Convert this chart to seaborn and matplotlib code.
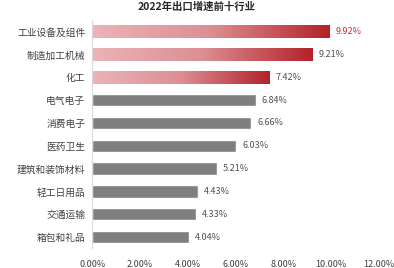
import numpy as np
import pandas as pd
import matplotlib
matplotlib.use("Agg")
import matplotlib.pyplot as plt
import seaborn as sns
from matplotlib.colors import LinearSegmentedColormap

# 数据
industries = ["工业设备及组件", "制造加工机械", "化工", "电气电子", "消费电子",
              "医药卫生", "建筑和装饰材料", "轻工日用品", "交通运输", "箱包和礼品"]
values = [9.92, 9.21, 7.42, 6.84, 6.66, 6.03, 5.21, 4.43, 4.33, 4.04]
xticks = [0, 2, 4, 6, 8, 10, 12]

sns.set_theme(style="white")
plt.rcParams['font.family'] = ['Noto Sans CJK SC', 'DejaVu Sans']

df = pd.DataFrame({"行业": industries, "占比": values})

fig = plt.figure(figsize=(3.94, 2.68), dpi=100)
ax = fig.add_axes([0.234, 0.073, 0.728, 0.851])

sns.barplot(data=df, x="占比", y="行业", color="#7f7f7f", width=0.55, ax=ax,
            saturation=1)

# 前三名用渐变红色
cmap = LinearSegmentedColormap.from_list("red_grad", ["#eab4b8", "#dc8e93", "#b3222a"])
grad = np.linspace(0, 1, 256).reshape(1, -1)
for i, p in enumerate(ax.patches[:3]):
    x0, y0 = p.get_x(), p.get_y()
    w, h = p.get_width(), p.get_height()
    p.set_visible(False)
    ax.imshow(grad, cmap=cmap, aspect="auto", extent=[x0, x0 + w, y0 + h, y0],
              zorder=2)

ax.set_xlim(0, 12)
ax.set_ylim(len(industries) - 0.5, -0.5)

for i, v in enumerate(values):
    ax.text(v + 0.25, i, f"{v:.2f}%", va="center", ha="left", fontsize=6.5,
            color="#d7282f" if i == 0 else "#505050")

ax.set_xticks(xticks)
ax.set_xticklabels([f"{t:.2f}%" for t in xticks], fontsize=6.5, color="#404040")
ax.tick_params(axis="y", labelsize=7, colors="#404040", length=0, pad=5)
ax.tick_params(axis="x", length=0, pad=8)
ax.set_xlabel("")
ax.set_ylabel("")

for s in ["top", "right", "bottom"]:
    ax.spines[s].set_visible(False)
ax.spines["left"].set_color("#d9d9d9")
ax.spines["left"].set_linewidth(0.8)

fig.text(0.5, 0.995, "2022年出口增速前十行业", ha="center", va="top",
         fontsize=7.5, fontweight="bold", color="#262626")

fig.savefig("out.png", dpi=100)
